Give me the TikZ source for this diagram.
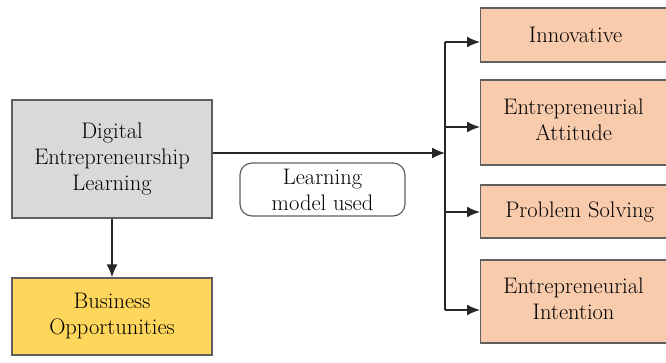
\documentclass[tikz,border=0pt]{standalone}
\usepackage{xcolor}
\usetikzlibrary{arrows.meta, positioning, calc}
\definecolor{boxgray}{RGB}{217, 217, 217}
\definecolor{boxgold}{RGB}{255, 214, 92}
\definecolor{boxpeach}{RGB}{248, 203, 173}
\definecolor{edgegray}{RGB}{95, 95, 95}

\begin{document}
\begin{tikzpicture}[x=1pt, y=-1pt,
  box/.style={draw=edgegray, line width=1.2pt, align=center,
              font=\fontsize{22.5}{26}\selectfont, inner sep=0pt},
  link/.style={line width=1.8pt, black!85},
  tip/.style={link, -{Latex[length=13pt, width=11pt]}}]
  \useasboundingbox (0,0) rectangle (666,362);

  % Left side
  \node[box, fill=boxgray, minimum width=200pt, minimum height=118pt]
    (dig) at (112,159) {Digital\\Entrepreneurship\\Learning};
  \node[box, fill=boxgold, minimum width=200pt, minimum height=77pt]
    (biz) at (112,316.5) {Business\\Opportunities};
  \node[box, fill=white, rounded corners=12pt, minimum width=165pt, minimum height=53pt]
    (model) at (322.5,189.5) {Learning\\model used};

  % Outcomes
  \node[box, fill=boxpeach, minimum width=200pt, minimum height=54pt, anchor=west]
    (innov) at (480,35) {\hspace*{-10pt}Innovative};
  \node[box, fill=boxpeach, minimum width=200pt, minimum height=85pt, anchor=west]
    (attit) at (480,122.5) {\hspace*{-14pt}\begin{tabular}{@{}c@{}}Entrepreneurial\\Attitude\end{tabular}};
  \node[box, fill=boxpeach, minimum width=200pt, minimum height=53pt, anchor=west]
    (probl) at (480,211.5) {\hspace*{-2pt}Problem Solving};
  \node[box, fill=boxpeach, minimum width=200pt, minimum height=83pt, anchor=west]
    (inten) at (480,301.5) {\hspace*{-14pt}\begin{tabular}{@{}c@{}}Entrepreneurial\\Intention\end{tabular}};

  % Bus line
  \coordinate (bustop) at (445,42);
  \coordinate (busbot) at (445,310);
  \draw[link] (bustop) -- (busbot);
  \draw[tip] (dig.east |- 0,153) -- (bustop |- 0,153);
  \draw[tip] (bustop) -- (innov.west |- bustop);
  \draw[tip] (bustop |- 0,127) -- (attit.west |- 0,127);
  \draw[tip] (bustop |- 0,212) -- (probl.west |- 0,212);
  \draw[tip] (busbot) -- (inten.west |- busbot);

  % Down arrow
  \draw[tip] (dig.south) -- (biz.north);
\end{tikzpicture}
\end{document}
